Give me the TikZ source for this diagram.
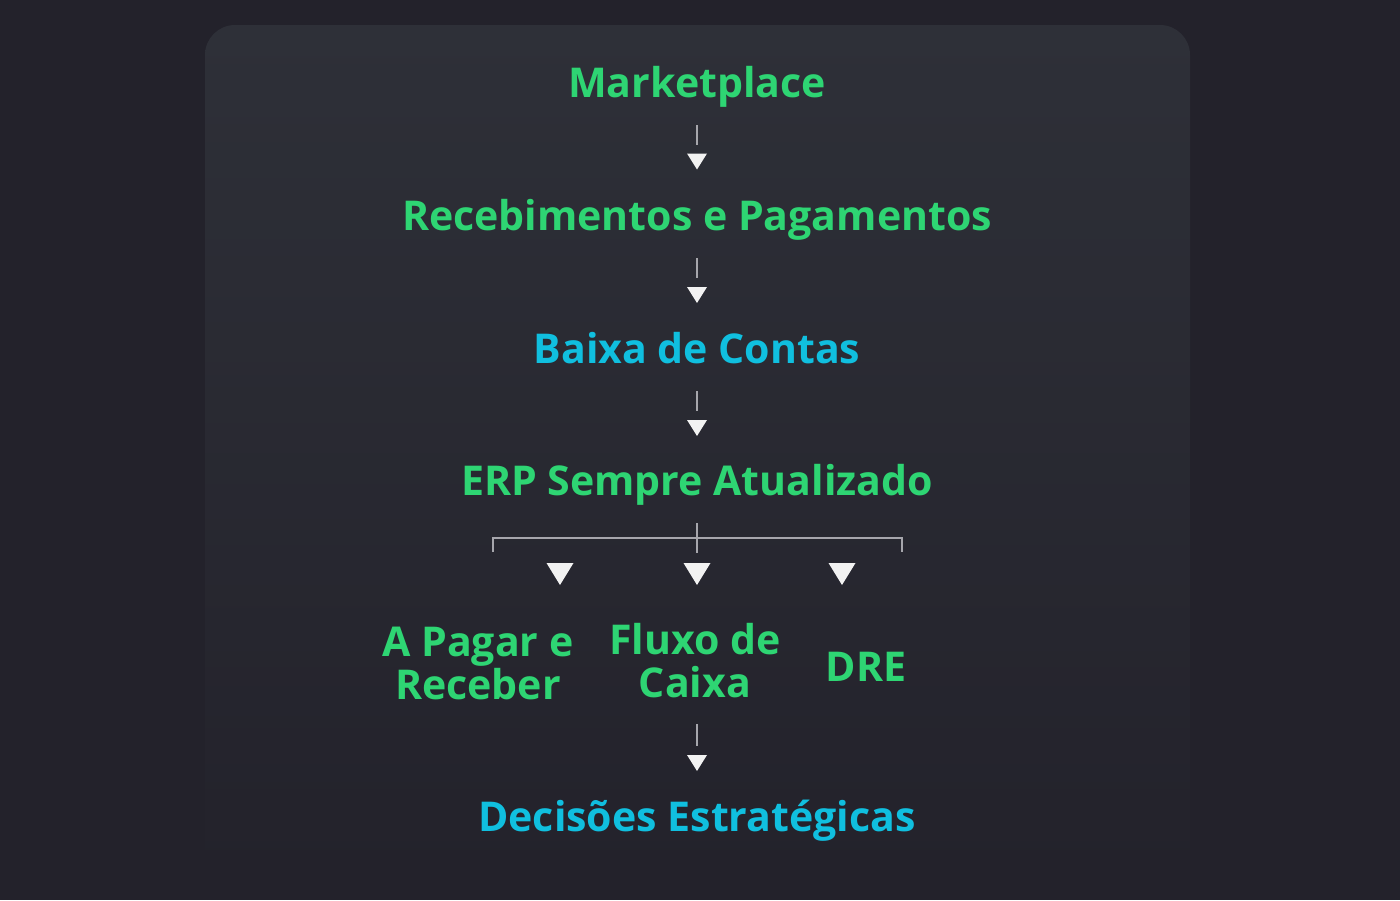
\documentclass[tikz,border=0pt]{standalone}
\usepackage{fontspec}
\setmainfont{Open Sans}
\usetikzlibrary{positioning}

\definecolor{bgdark}{HTML}{23222B}
\definecolor{paneltop}{HTML}{2E3038}
\definecolor{flowgreen}{HTML}{2ED573}
\definecolor{flowblue}{HTML}{10BFDF}
\definecolor{stemgray}{HTML}{A6A6AC}
\definecolor{tipwhite}{HTML}{F2F2F2}

\tikzset{
  stage/.style={font=\bfseries\fontsize{30.8}{32.25}\selectfont, inner sep=0pt,
    text=flowgreen, text height=22pt, text depth=7.5pt},
  keystage/.style={stage, text=flowblue},
  splitstage/.style={font=\bfseries\fontsize{30.8}{32.25}\selectfont, inner sep=0pt,
    text=flowgreen, align=center},
  stem/.style={draw=stemgray, line width=1pt, shorten <=13.5pt, shorten >=12.4pt},
  bracket/.style={draw=stemgray, line width=1pt}
}

\begin{document}
\begin{tikzpicture}[x=0.75pt,y=-0.75pt]
  \useasboundingbox (0,0) rectangle (1400,900);
  \clip (0,0) rectangle (1400,900);
  % backdrop and panel
  \fill[bgdark] (0,0) rectangle (1400,900);
  \shade[top color=paneltop, bottom color=bgdark, rounded corners=22.5pt]
    (205,880) -- (205,25) -- (1190,25) -- (1190,880) -- cycle;

  % stages
  \node[stage, anchor=base] (mk) at (697,97) {Marketplace};
  \node[stage, anchor=base] (rp) at (697,230) {Recebimentos e Pagamentos};
  \node[keystage, anchor=base] (bx) at (697,363) {Baixa de Contas};
  \node[stage, anchor=base] (erp) at (697,495) {ERP Sempre Atualizado};
  \node[splitstage] (apr) at (478,663) {A Pagar e\\Receber};
  \node[splitstage] (flx) at (695,661) {Fluxo de\\Caixa};
  \node[stage, anchor=base] (dre) at (866,681) {DRE};
  \node[keystage, anchor=base] (dec) at (697,831) {Decisões Estratégicas};

  % tips
  \coordinate (t1) at (697,161.5);
  \coordinate (t2) at (697,295);
  \coordinate (t3) at (697,428);
  \coordinate (t4) at (697,763);
  \coordinate (b1) at (560,574);
  \coordinate (b2) at (697,574);
  \coordinate (b3) at (842,574);
  \coordinate (hub) at (697,553);
  \coordinate (brl) at (493,552);
  \coordinate (brr) at (902,552);

  % stems
  \draw[stem] (mk) -- (t1);
  \draw[stem] (rp) -- (t2);
  \draw[stem] (bx) -- (t3);
  \draw[stem, shorten >=0pt] (erp.south) -- (hub);
  \draw[bracket] (brl) -- (brl |- 0,538) -- (brr |- 0,538) -- (brr);
  \draw[stem, shorten <=19pt] (flx.south -| t4) -- (t4);

  \foreach \t in {t1,t2,t3,t4}
    \fill[tipwhite] (\t) ++(-10,-8) -- ++(20,0) -- ++(-10,16) -- cycle;
  \foreach \t in {b1,b2,b3}
    \fill[tipwhite] (\t) ++(-13.5,-11) -- ++(27,0) -- ++(-13.5,22) -- cycle;
\end{tikzpicture}
\end{document}
